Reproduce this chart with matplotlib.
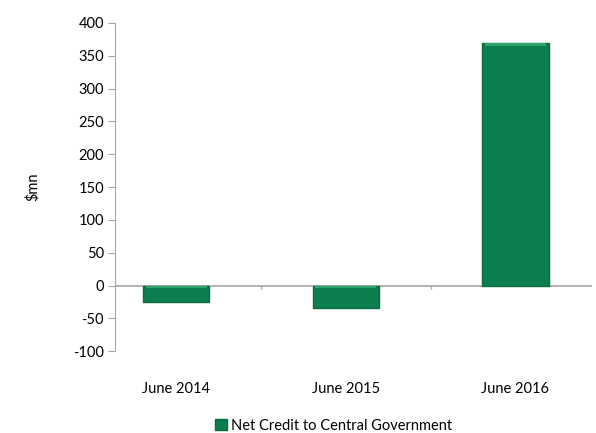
import numpy as np
import matplotlib.pyplot as plt

categories = ["June 2014", "June 2015", "June 2016"]
values = [-25, -35, 370]
series_name = "Net Credit to Central Government"

plt.rcParams['font.family'] = ['Lato', 'DejaVu Sans']
plt.rcParams['axes.unicode_minus'] = False

fig = plt.figure(figsize=(5.96, 4.33), dpi=100)
ax = fig.add_axes([0.193, 0.189, 0.80, 0.758])

x = np.arange(len(categories))
bars = ax.bar(x, values, width=0.39, color='#0b7f4e', edgecolor='#0a6a40',
              linewidth=1.0, label=series_name, zorder=3)
# light strip along the top edge to mimic the bevelled look
for b in bars:
    top = max(b.get_height(), 0)
    ax.bar(b.get_x() + b.get_width() / 2, 3.5, bottom=top - 4.5,
           width=b.get_width() * 0.92, color='#2ea36b', linewidth=0, zorder=4)

ax.axhline(0, color='#a6a6a6', linewidth=1.2, zorder=2)
ax.vlines([0.5, 1.5], -6, 0, color='#a6a6a6', linewidth=1.0)

ax.set_xlim(-0.36, 2.45)
ax.set_ylim(-100, 400)
ax.set_yticks(np.arange(-100, 401, 50))
ax.set_xticks(x)
ax.set_xticklabels(categories, fontsize=10.5)
ax.tick_params(axis='x', length=0, pad=22)
ax.tick_params(axis='y', length=5, color='#a6a6a6', labelsize=10.5, pad=3)

for s in ['top', 'right', 'bottom']:
    ax.spines[s].set_visible(False)
ax.spines['left'].set_color('#a6a6a6')

ax.set_ylabel("$mn", fontsize=10.5, labelpad=24)

fig.legend(handles=[bars], labels=[series_name], loc='lower center',
           bbox_to_anchor=(0.56, -0.03), frameon=False, fontsize=10.5,
           handlelength=0.8, handleheight=0.8, handletextpad=0.3)

fig.savefig("out.png", dpi=100)
